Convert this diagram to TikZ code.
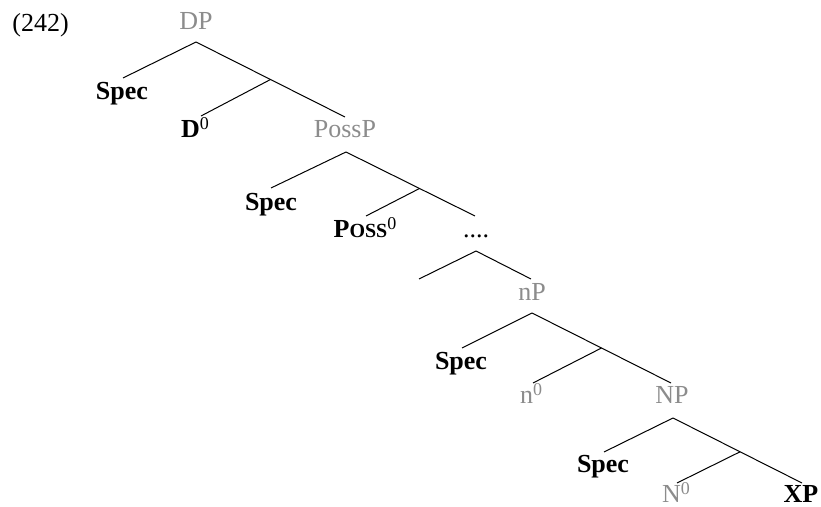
\documentclass[tikz,border=0pt]{standalone}
\usepackage{fontspec}
\setmainfont{Liberation Serif}
\usepackage{tikz}
\usetikzlibrary{calc}
\definecolor{catgray}{RGB}{140,140,140}
\newcommand{\supz}{\raisebox{4pt}{\fontsize{9}{10}\selectfont\mdseries 0}}

\begin{document}
\begin{tikzpicture}[
    x=0.5pt, y=-0.5pt,
    every node/.style={font=\fontsize{13}{15}\selectfont, inner sep=0pt, anchor=base},
    cat/.style={text=catgray},
    term/.style={font=\fontsize{13}{15}\selectfont\bfseries},
    branch/.style={line width=0.5pt},
]
\useasboundingbox (0,0) rectangle (821,507);

%% Etiquetas con coordenadas absolutas (linea base)
\node[anchor=base west] at (12,32)  (exnum) {(242)};
\node[cat]  at (196,30)  (dp)     {DP};
\node[term] at (122,100) (spec1)  {Spec};
\node[term] at (195,138) (dhead)  {D\supz};
\node[cat]  at (345,138) (possp)  {PossP};
\node[term] at (271,211) (spec2)  {Spec};
\node[term] at (365,238) (posshead) {P{\fontsize{10}{12}\selectfont OSS}\supz};
\node       at (476,238) (dots)   {....};
\node[cat]  at (532,301) (np1)    {nP};
\node[term] at (461,370) (spec3)  {Spec};
\node[cat]  at (531,404) (nhead)  {n\supz};
\node[cat]  at (672,404) (np2)    {NP};
\node[term] at (603,473) (spec4)  {Spec};
\node[cat]  at (676,503) (Nhead)  {N\supz};
\node[term] at (801,503) (xp)     {XP};

%% Puntos de las ramas
\coordinate (dp-top)   at (196,42);
\coordinate (dp-spec)  at (123,78);
\coordinate (dp-comp)  at (345,117);
\coordinate (dp-head)  at (201,116);
\coordinate (dp-bar)   at ($(dp-top)!0.5!(dp-comp)$);

\coordinate (pp-top)   at (346,152);
\coordinate (pp-spec)  at (271,188);
\coordinate (pp-comp)  at (475,216);
\coordinate (pp-head)  at (366,216);
\coordinate (pp-bar)   at ($(pp-top)!0.57!(pp-comp)$);

\coordinate (dd-top)   at (476,251);
\coordinate (dd-left)  at (419,279);
\coordinate (dd-right) at (531,279);

\coordinate (np-top)   at (532,313);
\coordinate (np-spec)  at (462,348);
\coordinate (np-comp)  at (671,383);
\coordinate (np-head)  at (533,383);
\coordinate (np-bar)   at ($(np-top)!0.5!(np-comp)$);

\coordinate (NP-top)   at (673,418);
\coordinate (NP-spec)  at (604,452);
\coordinate (NP-comp)  at (802,483);
\coordinate (NP-head)  at (677,483);
\coordinate (NP-bar)   at ($(NP-top)!0.52!(NP-comp)$);

%% Ramas
\draw[branch] (dp-top) -- (dp-spec);
\draw[branch] (dp-top) -- (dp-comp);
\draw[branch] (dp-bar) -- (dp-head);

\draw[branch] (pp-top) -- (pp-spec);
\draw[branch] (pp-top) -- (pp-comp);
\draw[branch] (pp-bar) -- (pp-head);

\draw[branch] (dd-top) -- (dd-left);
\draw[branch] (dd-top) -- (dd-right);

\draw[branch] (np-top) -- (np-spec);
\draw[branch] (np-top) -- (np-comp);
\draw[branch] (np-bar) -- (np-head);

\draw[branch] (NP-top) -- (NP-spec);
\draw[branch] (NP-top) -- (NP-comp);
\draw[branch] (NP-bar) -- (NP-head);

\end{tikzpicture}
\end{document}
